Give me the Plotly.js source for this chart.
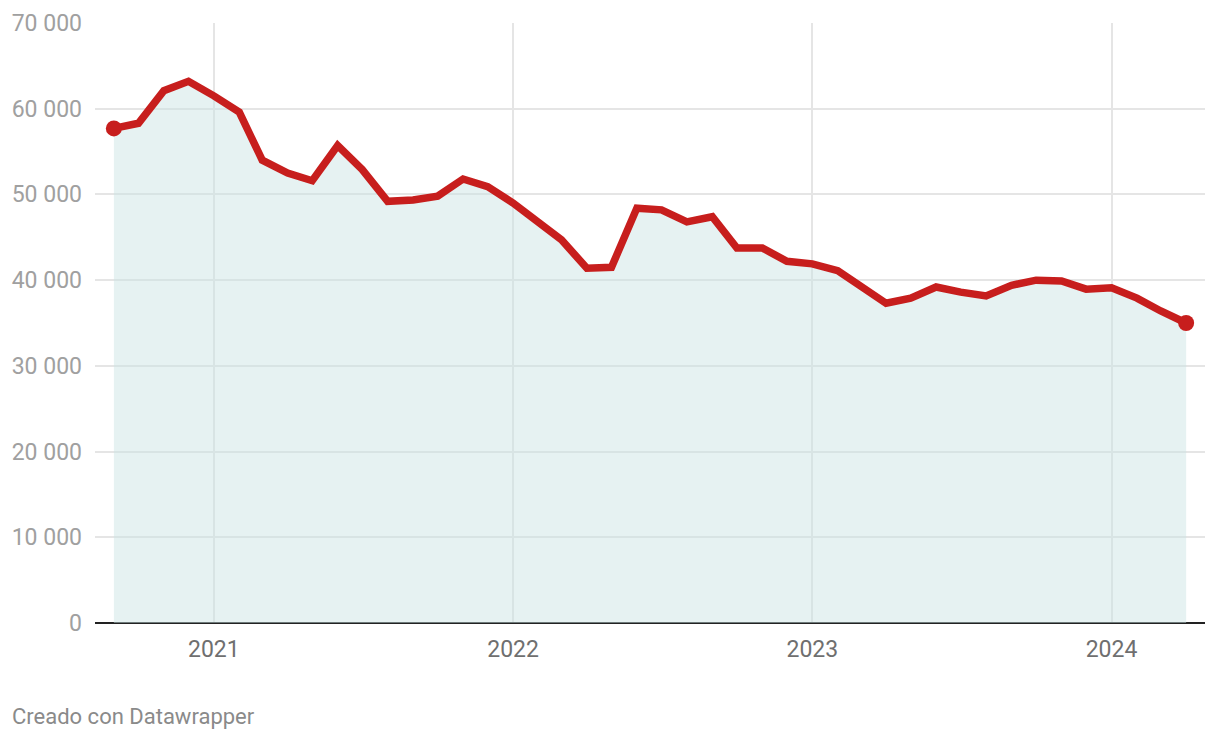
<!DOCTYPE html>
<html>
<head>
<meta charset="utf-8">
<script src="https://cdn.plot.ly/plotly-3.0.1.min.js"></script>
<style>
html,body{margin:0;padding:0;background:#fff;}
#chart{width:1220px;height:740px;}
</style>
</head>
<body>
<div id="chart"></div>
<script>
const months = [
 "2020-09-01","2020-10-01","2020-11-01","2020-12-01",
 "2021-01-01","2021-02-01","2021-03-01","2021-04-01","2021-05-01","2021-06-01",
 "2021-07-01","2021-08-01","2021-09-01","2021-10-01","2021-11-01","2021-12-01",
 "2022-01-01","2022-02-01","2022-03-01","2022-04-01","2022-05-01","2022-06-01",
 "2022-07-01","2022-08-01","2022-09-01","2022-10-01","2022-11-01","2022-12-01",
 "2023-01-01","2023-02-01","2023-03-01","2023-04-01","2023-05-01","2023-06-01",
 "2023-07-01","2023-08-01","2023-09-01","2023-10-01","2023-11-01","2023-12-01",
 "2024-01-01","2024-02-01","2024-03-01","2024-04-01"
];
const values = [
 57700,58300,62100,63200,
 61500,59600,54000,52500,51600,55700,
 52900,49200,49350,49800,51800,50900,
 49000,46800,44700,41400,41500,48400,
 48200,46800,47400,43750,43750,42200,
 41900,41100,39200,37300,37900,39200,
 38600,38150,39400,40000,39900,38950,
 39100,37900,36400,35000
];
const yTicks = [0,10000,20000,30000,40000,50000,60000,70000];
const xTicks = ["2021-01-01","2022-01-01","2023-01-01","2024-01-01"];
const xTickLabels = ["2021","2022","2023","2024"];
const credit = "Creado con Datawrapper";

const lineColor = "#c71e1d";

const traces = [
 {
  x: months, y: values, type: "scatter", mode: "lines",
  line: {color: lineColor, width: 7.5, shape: "linear"},
  fill: "tozeroy", fillcolor: "rgba(201,227,227,0.46)",
  hoverinfo: "x+y", showlegend: false
 },
 {
  x: [months[0], months[months.length-1]],
  y: [values[0], values[values.length-1]],
  type: "scatter", mode: "markers",
  marker: {color: lineColor, size: 16},
  hoverinfo: "x+y", showlegend: false
 }
];

const layout = {
 width: 1220, height: 740,
 margin: {l: 95, r: 15, t: 23, b: 117},
 paper_bgcolor: "#fff", plot_bgcolor: "#fff",
 separators: ", ",
 font: {family: "Roboto, sans-serif"},
 xaxis: {
  type: "date",
  range: ["2020-08-09", "2024-04-24"],
  tickvals: xTicks, ticktext: xTickLabels,
  showgrid: true, gridcolor: "#e5e5e5", gridwidth: 2,
  showline: false, zeroline: false, ticks: "", ticklabelstandoff: 10,
  tickfont: {family: "Roboto, sans-serif", size: 23, color: "#6f6f6f"},
  fixedrange: true
 },
 yaxis: {
  range: [0, 70000],
  tickvals: yTicks, tickformat: ",d",
  showgrid: true, gridcolor: "#e5e5e5", gridwidth: 2,
  zeroline: true, zerolinecolor: "#222", zerolinewidth: 2,
  showline: false, ticks: "", ticklabelstandoff: 12,
  tickfont: {family: "Roboto, sans-serif", size: 23, color: "#a0a0a0"},
  fixedrange: true
 },
 annotations: [{
  text: credit, xref: "paper", yref: "paper",
  x: -85/1110, y: -93/600, xanchor: "left", yanchor: "middle",
  showarrow: false,
  font: {family: "Roboto, sans-serif", size: 22, color: "#8a8a8a"}
 }]
};

Plotly.newPlot("chart", traces, layout, {displayModeBar: false, staticPlot: true});
</script>
</body>
</html>
